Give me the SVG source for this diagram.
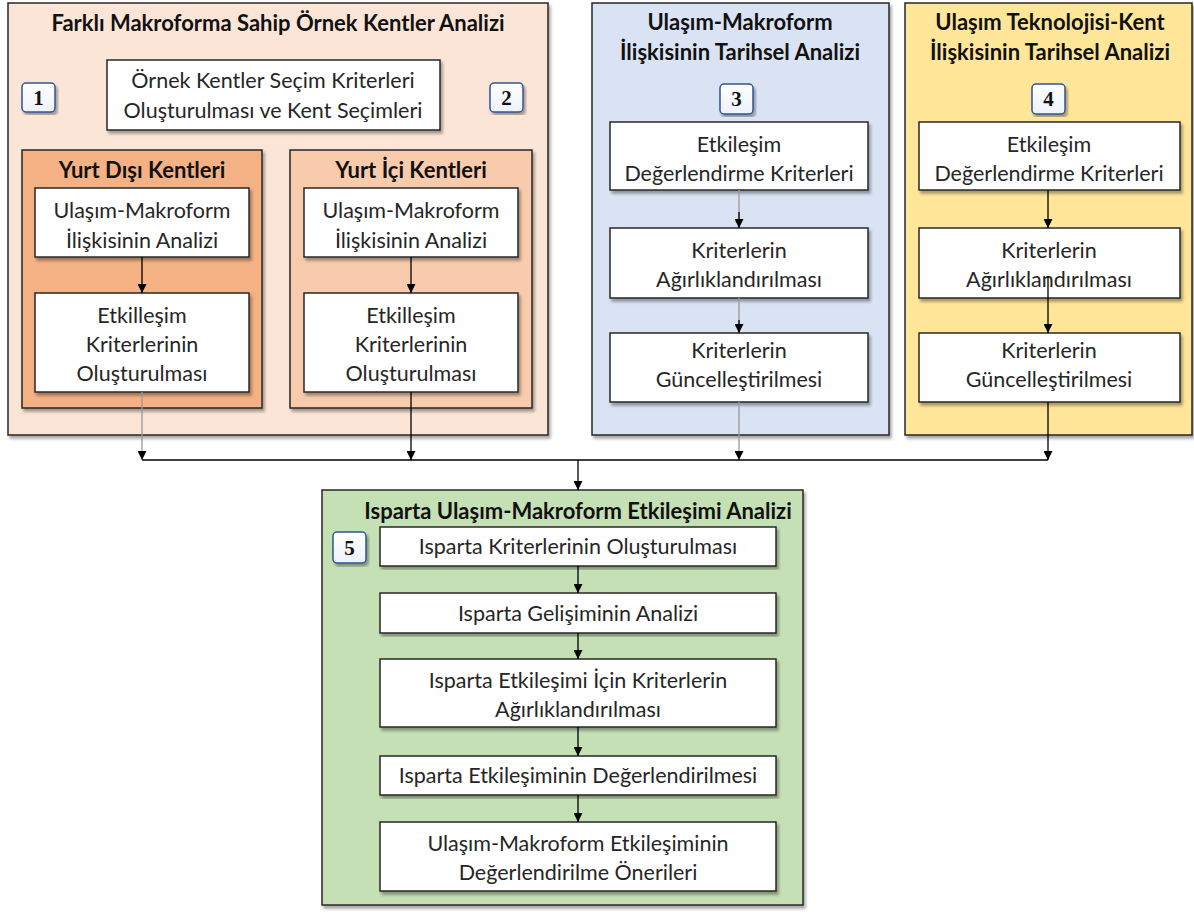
<svg xmlns="http://www.w3.org/2000/svg" width="1194" height="912" viewBox="0 0 1194 912">
<defs>
<filter id="sh" x="-5%" y="-5%" width="115%" height="115%">
<feDropShadow dx="2" dy="3" stdDeviation="1.5" flood-color="#000" flood-opacity="0.35"/>
</filter>
<linearGradient id="bg" x1="0" y1="0" x2="0" y2="1">
<stop offset="0" stop-color="#ffffff"/>
<stop offset="1" stop-color="#eef2fa"/>
</linearGradient>
<marker id="ah" viewBox="0 0 10 10" refX="10" refY="5" markerWidth="9" markerHeight="9" markerUnits="userSpaceOnUse" orient="auto">
<path d="M0,0 L10,5 L0,10 z" fill="#000"/>
</marker>
</defs>
<style>
.panel{stroke:#262626;stroke-width:1.5;filter:url(#sh)}
.box{fill:#fff;stroke:#262626;stroke-width:1.5;filter:url(#sh)}
.badge{fill:url(#bg);stroke:#2f5597;stroke-width:1.5;filter:url(#sh)}
.t{font-family:Lato,"Liberation Sans",sans-serif;font-size:21.5px;fill:#262626;text-anchor:middle}
.h{font-family:Lato,"Liberation Sans",sans-serif;font-size:22px;font-weight:bold;fill:#111;text-anchor:middle}
.n{font-family:"Liberation Serif",serif;font-size:21px;font-weight:bold;fill:#111;text-anchor:middle}
.c{stroke:#000;stroke-width:1.3;fill:none}
.cg{stroke:#9a9a9a;stroke-width:1.3;fill:none}
</style>

<g id="panel1">
<rect class="panel" x="8" y="3" width="540" height="432" fill="#fbe5d6"/>
<text class="h" x="278" y="31">Farklı Makroforma Sahip Örnek Kentler Analizi</text>
</g>
<g id="secim">
<rect class="box" x="107" y="60" width="333" height="70"/>
<text class="t" x="273" y="88">Örnek Kentler Seçim Kriterleri</text>
<text class="t" x="273" y="118">Oluşturulması ve Kent Seçimleri</text>
</g>
<g id="badge1">
<rect class="badge" x="22" y="83" width="33" height="29" rx="4"/>
<text class="n" x="38.5" y="105">1</text>
</g>
<g id="badge2">
<rect class="badge" x="490" y="83" width="33" height="29" rx="4"/>
<text class="n" x="506.5" y="105">2</text>
</g>
<g id="yurtdisi">
<rect class="panel" x="22" y="150" width="240" height="258" fill="#f4b183"/>
<text class="h" x="142" y="178">Yurt Dışı Kentleri</text>
</g>
<g id="yurtici">
<rect class="panel" x="290" y="150" width="242" height="258" fill="#f8cbad"/>
<text class="h" x="411" y="178">Yurt İçi Kentleri</text>
</g>
<g id="yd1">
<rect class="box" x="35" y="188" width="214" height="69"/>
<text class="t" x="142" y="218">Ulaşım-Makroform</text>
<text class="t" x="142" y="248">İlişkisinin Analizi</text>
</g>
<g id="yd2">
<rect class="box" x="35" y="293" width="214" height="99"/>
<text class="t" x="142" y="323">Etkilleşim</text>
<text class="t" x="142" y="352">Kriterlerinin</text>
<text class="t" x="142" y="381">Oluşturulması</text>
</g>
<g id="yi1">
<rect class="box" x="304" y="188" width="214" height="69"/>
<text class="t" x="411" y="218">Ulaşım-Makroform</text>
<text class="t" x="411" y="248">İlişkisinin Analizi</text>
</g>
<g id="yi2">
<rect class="box" x="304" y="293" width="214" height="99"/>
<text class="t" x="411" y="323">Etkilleşim</text>
<text class="t" x="411" y="352">Kriterlerinin</text>
<text class="t" x="411" y="381">Oluşturulması</text>
</g>

<g id="panel3">
<rect class="panel" x="592" y="3" width="297" height="432" fill="#dae3f3"/>
<text class="h" x="740" y="30">Ulaşım-Makroform</text>
<text class="h" x="740" y="60">İlişkisinin Tarihsel Analizi</text>
</g>
<g id="badge3">
<rect class="badge" x="720" y="84" width="33" height="30" rx="4"/>
<text class="n" x="736.5" y="106">3</text>
</g>
<g id="p3b1">
<rect class="box" x="610" y="122" width="258" height="68"/>
<text class="t" x="739" y="152">Etkileşim</text>
<text class="t" x="739" y="181">Değerlendirme Kriterleri</text>
</g>
<g id="p3b2">
<rect class="box" x="610" y="228" width="258" height="70"/>
<text class="t" x="739" y="258">Kriterlerin</text>
<text class="t" x="739" y="287">Ağırlıklandırılması</text>
</g>
<g id="p3b3">
<rect class="box" x="610" y="333" width="258" height="69"/>
<text class="t" x="739" y="358">Kriterlerin</text>
<text class="t" x="739" y="387">Güncelleştirilmesi</text>
</g>

<g id="panel4">
<rect class="panel" x="905" y="3" width="287" height="432" fill="#ffe699"/>
<text class="h" x="1050" y="30">Ulaşım Teknolojisi-Kent</text>
<text class="h" x="1050" y="60">İlişkisinin Tarihsel Analizi</text>
</g>
<g id="badge4">
<rect class="badge" x="1032" y="84" width="33" height="30" rx="4"/>
<text class="n" x="1048.5" y="106">4</text>
</g>
<g id="p4b1">
<rect class="box" x="919" y="122" width="261" height="68"/>
<text class="t" x="1049" y="152">Etkileşim</text>
<text class="t" x="1049" y="181">Değerlendirme Kriterleri</text>
</g>
<g id="p4b2">
<rect class="box" x="919" y="228" width="261" height="70"/>
<text class="t" x="1049" y="258">Kriterlerin</text>
<text class="t" x="1049" y="287">Ağırlıklandırılması</text>
</g>
<g id="p4b3">
<rect class="box" x="919" y="333" width="261" height="69"/>
<text class="t" x="1049" y="358">Kriterlerin</text>
<text class="t" x="1049" y="387">Güncelleştirilmesi</text>
</g>

<g id="panel5">
<rect class="panel" x="322" y="490" width="481" height="415" fill="#c5e0b4"/>
<text class="h" x="578" y="519">Isparta Ulaşım-Makroform Etkileşimi Analizi</text>
</g>
<g id="badge5">
<rect class="badge" x="333" y="532" width="33" height="31" rx="4"/>
<text class="n" x="349.5" y="555">5</text>
</g>
<g id="p5b1">
<rect class="box" x="380" y="527" width="396" height="39"/>
<text class="t" x="578" y="554">Isparta Kriterlerinin Oluşturulması</text>
</g>
<g id="p5b2">
<rect class="box" x="380" y="593" width="396" height="40"/>
<text class="t" x="578" y="621">Isparta Gelişiminin Analizi</text>
</g>
<g id="p5b3">
<rect class="box" x="380" y="659" width="396" height="68"/>
<text class="t" x="578" y="688">Isparta Etkileşimi İçin Kriterlerin</text>
<text class="t" x="578" y="717">Ağırlıklandırılması</text>
</g>
<g id="p5b4">
<rect class="box" x="380" y="756" width="396" height="39"/>
<text class="t" x="578" y="783">Isparta Etkileşiminin Değerlendirilmesi</text>
</g>
<g id="p5b5">
<rect class="box" x="380" y="822" width="396" height="69"/>
<text class="t" x="578" y="851">Ulaşım-Makroform Etkileşiminin</text>
<text class="t" x="578" y="880">Değerlendirilme Önerileri</text>
</g>

<g id="connectors">
<line class="c" x1="142" y1="257" x2="142" y2="293" marker-end="url(#ah)"/>
<line class="c" x1="411" y1="257" x2="411" y2="293" marker-end="url(#ah)"/>
<line class="cg" x1="739" y1="190" x2="739" y2="228"/>
<line class="c" x1="739" y1="212" x2="739" y2="228" marker-end="url(#ah)"/>
<line class="cg" x1="739" y1="298" x2="739" y2="333"/>
<line class="c" x1="739" y1="320" x2="739" y2="333" marker-end="url(#ah)"/>
<line class="c" x1="1048" y1="190" x2="1048" y2="228" marker-end="url(#ah)"/>
<line class="c" x1="1048" y1="276" x2="1048" y2="333" marker-end="url(#ah)"/>
<line class="cg" x1="142" y1="392" x2="142" y2="460" marker-end="url(#ah)"/>
<line class="c" x1="411" y1="392" x2="411" y2="460" marker-end="url(#ah)"/>
<line class="cg" x1="739" y1="402" x2="739" y2="460" marker-end="url(#ah)"/>
<line class="c" x1="1048" y1="402" x2="1048" y2="460" marker-end="url(#ah)"/>
<line class="c" x1="142" y1="460" x2="1048" y2="460"/>
<line class="c" x1="578" y1="460" x2="578" y2="490" marker-end="url(#ah)"/>
<line class="c" x1="578" y1="566" x2="578" y2="593" marker-end="url(#ah)"/>
<line class="c" x1="578" y1="633" x2="578" y2="659" marker-end="url(#ah)"/>
<line class="c" x1="578" y1="727" x2="578" y2="756" marker-end="url(#ah)"/>
<line class="c" x1="578" y1="795" x2="578" y2="822" marker-end="url(#ah)"/>
</g>
</svg>
